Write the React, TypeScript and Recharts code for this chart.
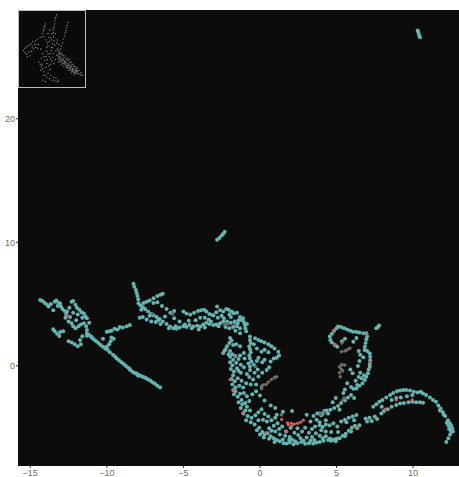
import React from 'react'
import { ScatterChart, Scatter, XAxis, YAxis, CartesianGrid } from 'recharts'

type Pt = [number, number]

const X_TICKS = [-15, -10, -5, 0, 5, 10]
const Y_TICKS = [0, 10, 20]

// teal cells, one list per stretch of the trajectory
const westCluster: Pt[] = [
  [-14.35,5.34],[-14.2,5.25],[-14.05,5.1],[-13.9,4.95],[-13.8,4.8],[-13.65,5.0],[-13.5,4.5],[-13.4,5.2],[-13.3,5.3],[-13.15,5.1],
  [-13.05,5.05],[-13.0,4.8],[-12.9,4.6],[-12.75,4.45],[-12.6,4.4],[-12.45,4.7],[-12.3,5.2],[-12.2,5.25],[-12.05,4.95],[-11.95,4.7],
  [-11.8,4.55],[-11.65,4.35],[-11.5,4.25],[-11.4,4.0],[-11.3,3.85],[-11.6,3.9],[-11.9,4.15],[-12.2,4.3],[-12.4,3.95],[-12.5,3.6],
  [-12.3,3.45],[-12.2,3.2],[-12.05,3.05],[-11.85,3.2],[-11.7,3.35],[-11.5,3.45],[-11.35,3.2],[-11.3,2.9],[-12.7,3.9],[-12.0,3.7],
  [-13.5,2.96],[-13.4,2.8],[-13.25,2.6],[-13.1,2.42],[-13.05,2.75],[-12.85,2.8],[-12.5,2.0],[-12.3,1.9],[-12.1,1.75],[-11.9,1.6],
  [-11.7,1.75],[-11.75,2.1],[-11.6,2.4],[-11.3,2.45],[-11.0,2.35],[-12.65,4.15],[-13.2,4.85],[-11.15,3.5],
]

const tail: Pt[] = [
  [-11.3,2.65],[-11.15,2.5],[-11.0,2.3],[-10.85,2.15],[-10.7,2.0],[-10.55,1.85],[-10.4,1.7],[-10.25,1.55],[-10.1,1.4],[-9.95,1.3],
  [-9.8,1.1],[-9.6,0.9],[-9.35,0.6],[-9.2,0.45],[-9.05,0.3],[-8.9,0.15],[-8.75,0.0],[-8.6,-0.15],[-8.45,-0.35],[-8.3,-0.5],
  [-8.15,-0.6],[-8.0,-0.7],[-7.85,-0.75],[-7.7,-0.85],[-7.5,-0.95],[-7.3,-1.1],[-7.15,-1.2],[-7.0,-1.35],[-6.85,-1.45],[-6.7,-1.6],[-6.52,-1.74],
  [-10.0,2.77],[-9.85,2.8],[-9.7,2.85],[-9.5,3.0],[-9.3,2.95],[-9.15,3.15],[-8.95,3.1],[-8.7,3.2],[-8.5,3.3],[-10.25,2.2],
  [-9.7,2.3],[-9.55,2.2],[-9.75,2.0],[-9.85,1.75],[-10.0,1.55],[-7.85,3.9],[-7.65,3.95],[-7.4,3.75],[-7.1,3.6],[-6.8,3.55],[-6.5,3.4],
  [-8.05,-0.62],[-7.95,-0.8],[-7.6,-0.9],[-7.4,-1.02],[-9.45,0.75],[-8.5,-0.25],
]

const upperArc: Pt[] = [
  [-8.26,6.64],[-8.2,6.4],[-8.1,6.15],[-8.05,5.9],[-8.0,5.65],[-7.95,5.4],[-7.93,5.07],[-7.8,4.9],[-7.65,4.75],[-7.5,4.6],
  [-7.3,4.4],[-7.1,4.2],[-6.95,4.1],[-6.75,3.95],[-6.55,3.8],[-6.35,3.6],[-6.1,3.4],[-5.87,3.18],[-5.65,3.05],[-5.45,3.0],
  [-5.25,3.1],[-5.0,3.2],[-4.8,3.15],[-4.6,3.3],[-4.35,3.18],[-4.1,3.25],[-3.9,3.18],[-3.7,3.35],[-3.5,3.5],[-3.3,3.4],
  [-3.05,3.3],[-2.85,3.35],[-2.6,3.45],[-2.4,3.6],[-2.15,3.6],[-1.9,3.5],[-1.65,3.6],[-1.4,3.7],[-1.2,3.72],[-1.05,3.55],
  [-1.0,3.3],[-0.95,3.05],[-0.9,2.8],[-1.3,3.05],[-1.5,3.2],[-1.75,3.15],[-2.0,3.05],
  [-7.6,5.1],[-7.4,5.2],[-7.2,5.3],[-6.95,5.47],[-6.7,5.65],[-6.5,5.75],[-6.35,5.83],[-6.95,5.1],[-6.7,5.15],[-6.4,4.85],
  [-6.1,4.6],[-5.85,4.3],[-5.6,4.45],[-5.0,4.4],[-4.8,4.25],[-4.55,4.15],[-4.3,4.3],[-4.05,4.45],[-3.85,4.5],[-3.65,4.55],
  [-3.5,4.4],[-3.3,4.2],[-3.1,4.1],[-3.04,4.1],[-2.85,4.35],[-2.8,4.8],[-2.6,4.5],[-2.4,4.4],[-2.2,4.6],[-2.05,4.55],
  [-1.85,4.4],[-1.7,4.26],[-1.5,4.3],[-1.3,3.95],[-1.1,3.85],[-3.9,3.9],[-3.6,3.9],[-3.35,3.75],[-2.75,3.9],[-2.35,3.85],
  [-1.9,3.95],[-5.25,3.6],[-4.65,3.65],[-4.2,3.7],[-5.6,3.85],[-6.2,4.0],[-2.25,3.15],[-1.6,2.85],[-1.3,2.65],[-4.0,2.95],
  [-7.75,4.55],[-7.2,4.05],[-6.65,3.7],[-5.95,3.05],[-5.5,3.2],[-4.9,3.35],[-4.45,3.05],[-3.6,3.1],[-3.2,3.6],[-2.7,3.2],
  [-2.5,4.05],[-2.0,4.15],[-1.45,3.45],[-0.85,3.4],
]

const westColumn: Pt[] = [
  [-1.95,2.25],[-1.85,2.05],[-2.0,1.85],[-2.15,1.6],[-2.25,1.35],[-2.4,1.05],[-2.3,1.25],[-1.75,1.7],[-1.55,1.75],[-1.3,1.6],
  [-1.95,1.2],[-1.8,0.95],[-1.95,0.75],[-1.75,0.5],[-1.6,0.8],[-1.4,0.55],[-1.95,0.3],[-1.8,0.05],[-1.9,-0.25],[-1.7,-0.45],
  [-1.5,-0.2],[-1.25,0.1],[-1.05,-0.1],[-1.25,-0.55],[-1.75,-0.75],[-1.85,-1.05],[-1.65,-1.25],[-1.45,-1.0],[-1.2,-1.2],[-1.8,-1.5],
  [-1.74,-1.96],[-1.6,-1.75],[-1.35,-1.6],[-1.1,-1.75],[-0.9,-1.4],[-1.7,-2.3],[-1.45,-2.5],[-1.2,-2.75],[-1.4,-2.95],[-1.15,-3.1],
  [-1.25,-3.4],[-1.08,-3.85],[-0.95,-3.6],[-0.85,-3.3],[-0.65,-3.6],[-0.8,-4.05],[-0.55,-4.2],[-0.3,-4.0],[-0.6,-4.55],[-0.35,-4.75],
  [-0.2,-5.2],[-0.05,-5.0],[0.15,-5.35],[0.3,-5.55],[0.5,-5.45],[0.7,-5.7],[0.9,-5.85],[1.1,-6.0],[1.3,-6.1],[1.55,-6.25],
  [1.74,-6.28],[1.95,-6.2],[2.2,-6.35],[2.45,-6.25],[2.7,-6.15],[2.95,-6.3],[3.2,-6.25],[3.48,-6.28],[3.7,-6.2],[3.91,-6.15],
  [-0.65,2.37],[-0.65,2.1],[-0.6,1.85],[-0.7,1.6],[-0.65,1.35],[-0.6,1.1],[-0.7,0.85],[-0.65,0.6],[-0.55,0.35],[-0.75,0.2],
  [-0.65,-0.05],[-0.65,-0.33],[-0.4,0.1],[-0.2,0.4],[-0.1,0.65],[-0.35,-0.55],[-0.1,-0.85],[-0.7,-0.9],[-0.45,-1.1],[-0.6,-1.5],
  [-0.32,2.23],[-0.1,2.1],[0.1,2.0],[0.3,1.9],[0.55,1.75],[0.75,1.6],[0.95,1.4],[1.2,1.15],[1.25,0.85],[1.1,0.65],
  [0.9,0.6],[0.7,0.35],[0.44,-0.33],[0.6,-0.1],[0.3,0.5],[0.1,1.15],[0.3,1.3],[0.55,1.1],[-0.2,1.4],[-1.05,1.05],
  [-1.3,0.85],[0.15,0.3],[-0.15,-0.3],[0.15,-0.55],[-0.25,-1.5],[-0.4,1.75],[-1.05,-2.2],[-0.85,-2.45],[-0.5,-2.3],[-0.25,-2.05],
  [-2.05,0.95],[-1.55,0.25],[-1.4,-0.4],[-1.6,-2.05],[-1.3,-2.25],[-0.95,-3.0],[-0.7,-2.85],[-0.9,-4.4],[-0.1,-4.4],[0.0,-5.55],
  [0.25,-5.8],[0.6,-5.9],[0.95,-6.15],[1.5,-5.95],[1.9,-6.0],[2.3,-6.1],[2.85,-6.05],[3.3,-6.05],[-1.0,0.6],[-0.85,-0.65],
]

const southBowl: Pt[] = [
  [-0.1,-3.75],[0.1,-3.5],[0.3,-3.9],[0.55,-4.1],[0.2,-4.35],[0.45,-4.5],[0.75,-4.4],[1.0,-4.2],[1.15,-4.65],[0.9,-4.85],
  [0.6,-5.05],[1.25,-5.1],[1.45,-4.9],[1.7,-5.3],[1.3,-5.55],[1.65,-5.65],[1.95,-5.75],[2.25,-5.4],[2.5,-5.6],[2.75,-5.3],
  [2.45,-5.05],[2.95,-5.0],[3.2,-5.4],[3.05,-5.8],[3.4,-5.75],[3.65,-5.45],[3.9,-5.65],[4.1,-5.85],[4.3,-5.7],[4.57,-5.87],
  [4.8,-5.95],[5.0,-5.9],[5.2,-5.85],[5.4,-5.65],[5.6,-5.5],[5.8,-5.25],[6.0,-5.0],[6.2,-4.85],[6.5,-4.8],[3.6,-4.9],
  [3.9,-4.55],[4.1,-4.95],[4.3,-4.4],[4.55,-4.8],[4.8,-4.65],[5.05,-4.9],[5.3,-4.5],[5.55,-4.35],[5.8,-4.2],[6.05,-4.1],
  [6.3,-3.98],[4.0,-5.2],[4.3,-5.3],[4.65,-5.35],[5.1,-5.35],[3.7,-4.35],[3.5,-4.05],[3.75,-3.85],[4.1,-3.85],[4.35,-3.6],
  [4.6,-3.55],[4.85,-3.4],[5.1,-3.25],[5.3,-3.0],[5.55,-2.8],[5.75,-2.55],[5.95,-2.35],[6.15,-2.6],[4.75,-2.95],[4.95,-2.6],
  [5.45,-2.2],[4.0,-4.0],[3.9,-3.85],[7.0,-4.5],[7.15,-4.2],[7.3,-4.45],[7.5,-4.1],[7.65,-4.3],[0.0,-2.4],[0.3,-2.8],
  [0.7,-3.2],[1.0,-3.4],[1.5,-3.7],[2.1,-3.65],[3.05,-3.95],[3.3,-4.5],[2.0,-5.0],[1.1,-3.95],
  [4.15,-6.05],[4.45,-6.0],[4.65,-6.05],[4.95,-6.1],[5.55,-5.7],[5.95,-5.3],[6.35,-5.05],[3.4,-5.1],[3.55,-6.0],[2.1,-5.95],
  [2.65,-5.85],[1.0,-5.3],[0.75,-5.25],[4.2,-3.65],[4.45,-3.85],[5.2,-3.55],[5.65,-4.55],[6.15,-4.4],[4.3,-4.75],[3.9,-4.8],
]

const eastLoop: Pt[] = [
  [4.56,2.37],[4.7,2.6],[4.85,2.85],[5.0,3.05],[5.1,3.18],[5.3,3.15],[5.5,3.05],[5.7,2.95],[5.9,2.85],[6.08,2.77],
  [6.3,2.75],[6.5,2.7],[6.75,2.65],[6.95,2.64],[7.0,2.4],[6.95,2.15],[6.9,1.85],[6.85,1.55],[6.84,1.29],[7.0,1.2],
  [7.17,1.02],[7.2,0.75],[7.2,0.45],[7.17,0.15],[7.17,-0.06],[7.1,-0.3],[7.05,-0.6],[6.95,-0.88],[6.85,-1.15],[6.7,-1.4],
  [6.5,-1.6],[6.3,-1.82],[6.1,-1.85],[5.95,-1.7],[6.25,-1.2],[6.45,-0.9],[6.55,-0.55],[6.4,0.0],[6.5,0.4],[6.55,0.9],
  [6.45,1.2],[4.6,2.1],[4.7,1.9],[4.89,1.69],[5.05,1.55],[5.35,2.0],[5.55,2.2],[6.1,1.95],[6.3,2.25],[5.9,-0.3],
  [6.05,-0.6],[5.7,-1.4],[5.55,-1.9],[7.6,3.04],[7.7,3.15],[7.78,3.26],[6.65,-1.0],[6.35,-1.55],[6.8,-0.75],[6.75,0.7],
]

const eastArc: Pt[] = [
  [7.4,-3.3],[7.6,-3.1],[7.8,-2.9],[8.0,-2.75],[8.25,-2.55],[8.5,-2.36],[8.7,-2.2],[8.95,-2.05],[9.15,-2.0],[9.35,-1.96],
  [9.55,-1.95],[9.8,-2.0],[10.05,-2.1],[10.3,-2.15],[10.5,-2.1],[10.65,-2.23],[10.85,-2.35],[11.1,-2.55],[11.3,-2.75],[11.5,-2.9],
  [11.65,-3.2],[11.8,-3.45],[11.95,-3.75],[12.1,-4.05],[12.28,-4.39],[12.4,-4.65],[12.5,-4.85],[12.56,-5.06],[12.5,-5.3],[12.42,-5.55],
  [12.3,-5.85],[12.17,-6.15],[12.3,-4.8],[12.35,-5.1],[7.93,-3.85],[8.1,-3.65],[8.35,-3.5],[8.6,-3.3],[8.9,-3.17],[9.15,-3.05],
  [9.4,-3.0],[9.7,-2.95],[9.95,-2.9],[10.2,-2.95],[10.45,-2.95],[10.65,-2.98],[8.6,-2.75],[8.9,-2.6],[9.2,-2.55],[9.6,-2.45],
  [9.95,-2.35],[7.95,-3.3],[6.9,-4.25],[12.2,-4.6],[12.45,-4.95],[12.45,-5.2],[12.6,-5.3],[12.0,-3.95],[11.75,-3.6],
]

const midIsland: Pt[] = [[-2.8,10.2],[-2.65,10.35],[-2.5,10.55],[-2.4,10.7],[-2.3,10.85]]
const topIsland: Pt[] = [[10.3,27.15],[10.35,26.95],[10.4,26.75],[10.45,26.6]]

const tealCells = [...westCluster, ...tail, ...upperArc, ...westColumn, ...southBowl, ...eastLoop, ...eastArc, ...midIsland, ...topIsland]

const grayCells: Pt[] = [
  [0.11,-1.82],[0.2,-1.55],[0.4,-1.5],[0.55,-1.3],[0.75,-1.1],[0.95,-0.95],[1.09,-0.88],[0.1,-1.65],
  [5.32,1.15],[5.55,1.2],[5.7,1.3],[5.87,1.42],[5.2,-0.06],[5.35,0.1],[5.54,0.07],[5.3,-0.25],[5.2,-0.55],[5.25,-0.88],
  [5.4,-0.4],[5.35,1.85],[5.4,-2.8],[5.5,-2.6],[3.95,-3.9],[4.2,-3.75],[1.4,-3.95],[-0.3,-0.05],[-2.3,3.35],[-2.1,3.4],[-1.65,3.35],[-5.7,4.2],[-7.0,4.2],
]

const redCells: Pt[] = [
  [1.42,-4.33],[1.8,-4.6],[1.85,-4.75],[2.05,-4.65],[2.25,-4.7],[2.45,-4.65],[2.65,-4.55],[2.83,-4.39],[1.75,-5.3],[2.1,-4.85],
  [-1.65,0.8],[-1.75,-1.95],[-1.1,-3.75],[0.4,-5.4],[-12.6,4.05],[4.85,2.9],[4.9,1.75],[6.95,2.55],[7.2,0.3],[6.4,-4.95],
  [8.2,-3.5],[8.9,-2.75],[9.95,-2.75],[-1.95,-1.1],
]

// inset thumbnail, in percent of its own box
const insetCells: Pt[] = [
  [57,95],[56,92],[55,90],[54,87],[54,83],[53,79],[52,76],[52,72],[52,66],[53,61],[51,57],[50,52],[49,48],
  [40,83],[39,80],[38,77],[37,74],[36,70],[38,66],[41,62],[43,58],[44,54],
  [74,85],[73,81],[72,78],[71,74],[70,71],[69,67],[67,63],[66,58],[64,54],[63,50],
  [7,48],[9,51],[12,53],[15,55],[18,57],[21,60],[25,61],[28,63],[32,65],[35,66],[9,45],[12,43],[15,46],[19,47],[22,50],[25,52],[28,51],[13,40],[17,41],
  [57,42],[59,41],[61,40],[63,39],[65,37],[67,36],[69,34],[71,33],[73,31],[75,29],[77,28],[79,26],[81,24],[83,23],[85,21],[87,20],[89,18],[91,17],[93,16],[95,15],[97,16],
  [59,38],[61,36],[63,34],[65,33],[67,31],[70,30],[72,28],[74,26],[76,25],[78,23],[80,21],[82,20],[84,19],[86,18],[62,43],[65,41],[68,39],[71,37],[74,35],[77,32],[80,29],[83,27],[86,24],[89,21],
  [60,33],[64,30],[68,27],[72,25],[76,22],[80,18],[84,16],
  [42,47],[44,43],[46,40],[48,37],[50,34],[53,31],[55,36],[52,44],[49,52],[46,60],[48,65],[44,70],[47,75],[58,50],[60,56],[58,62],[62,46],
  [30,33],[32,30],[34,27],[36,24],[38,20],[37,15],[39,35],[42,31],[45,28],[47,23],[44,18],
  [42,13],[46,11],[50,9],[54,8],[58,7],[60,9],[52,13],[36,9],[40,7],
  [55,70],[50,70],[49,62],[45,65],[42,52],[47,44],[51,39],[56,47],[60,48],[54,55],[57,58],[41,40],[36,44],[33,50],[29,56],[24,56],[20,53],
  [64,44],[67,42],[70,41],[73,38],[76,36],[79,33],[82,30],[85,27],[88,25],[91,22],[94,19],[60,44],[62,37],[66,35],[69,32],[73,28],[78,26],[81,22],[87,22],
  [34,38],[38,40],[35,30],[41,26],[43,36],[48,30],[33,22],[40,16],[48,15],[56,12],
]

const fmtTick = (v: number) => String(v).replace('-', '\u2212')

export default function App() {
  return (
    <div style={{ position: 'absolute', left: 0, top: 0, width: 459, height: 477, background: '#ffffff', fontFamily: '"Liberation Sans", Arial, sans-serif' }}>
      <ScatterChart width={459} height={477} margin={{ top: 10, right: 0, bottom: 0, left: 0 }}>
        <CartesianGrid fill="#0c0c0a" stroke="none" horizontal={false} vertical={false} />
        <XAxis
          type="number"
          dataKey="x"
          domain={[-15.8, 13]}
          ticks={X_TICKS}
          tickFormatter={fmtTick}
          allowDataOverflow
          height={11}
          axisLine={false}
          tickLine={{ stroke: '#333333' }}
          tickSize={2}
          tickMargin={2}
          tick={{ fontSize: 9, fill: '#6e6e6e' }}
        />
        <YAxis
          type="number"
          dataKey="y"
          domain={[-8.1, 28.8]}
          ticks={Y_TICKS}
          allowDataOverflow
          width={18}
          axisLine={false}
          tickLine={{ stroke: '#333333' }}
          tickSize={2}
          tickMargin={1}
          tick={{ fontSize: 9, fill: '#6e6e6e' }}
        />
        <Scatter data={tealCells.map(([x, y]) => ({ x, y }))} fill="#62b5b2" shape={<Dot r={2} />} isAnimationActive={false} />
        <Scatter data={grayCells.map(([x, y]) => ({ x, y }))} fill="#6c6c6c" shape={<Dot r={1.8} />} isAnimationActive={false} />
        <Scatter data={redCells.map(([x, y]) => ({ x, y }))} fill="#cf665d" shape={<Dot r={1.6} />} isAnimationActive={false} />
      </ScatterChart>
      <div style={{ position: 'absolute', left: 18, top: 10, width: 68, height: 78, boxSizing: 'border-box', border: '1px solid #bdbdb8', background: '#0a0a09' }}>
        <ScatterChart width={66} height={76} margin={{ top: 0, right: 0, bottom: 0, left: 0 }}>
          <XAxis type="number" dataKey="x" domain={[0, 100]} hide />
          <YAxis type="number" dataKey="y" domain={[0, 100]} hide />
          <Scatter data={insetCells.map(([x, y]) => ({ x, y }))} fill="#8f8f8c" shape={<Dot r={0.7} />} isAnimationActive={false} />
        </ScatterChart>
      </div>
    </div>
  )
}

function Dot({ cx, cy, r, fill }: any) {
  return <circle cx={cx} cy={cy} r={r} fill={fill} />
}
